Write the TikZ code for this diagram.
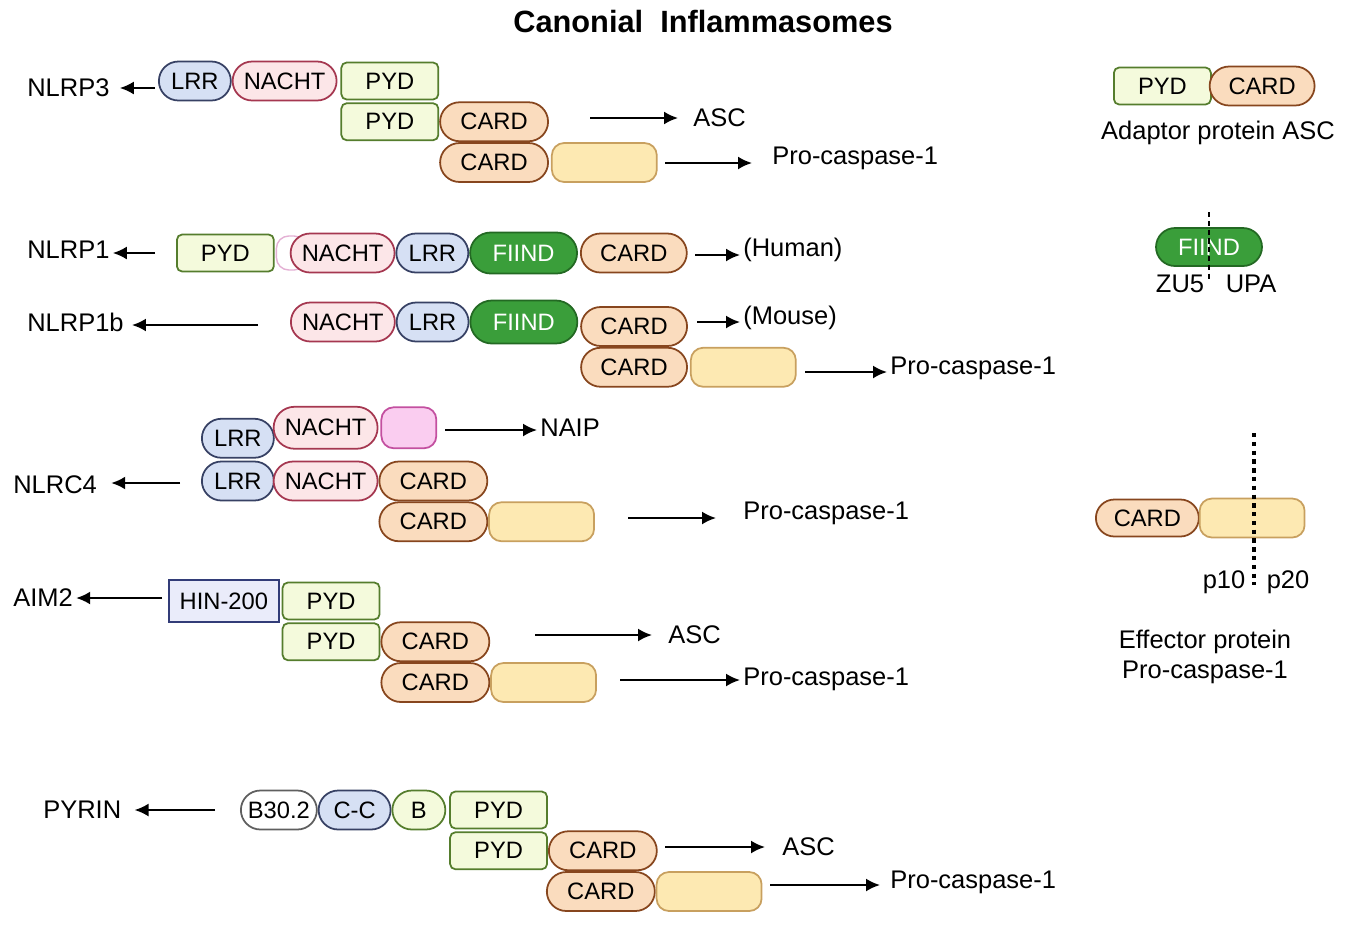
\documentclass[tikz,border=0pt]{standalone}
\usepackage{fontspec}
\setmainfont{Liberation Sans}
\usetikzlibrary{positioning,shapes.misc,arrows.meta}

\definecolor{cardfill}{RGB}{250,220,190}
\definecolor{cardline}{RGB}{135,70,30}
\definecolor{tailfill}{RGB}{253,233,178}
\definecolor{tailline}{RGB}{200,160,95}
\definecolor{pydfill}{RGB}{244,250,220}
\definecolor{pydline}{RGB}{85,125,45}
\definecolor{lrrfill}{RGB}{214,224,244}
\definecolor{lrrline}{RGB}{55,65,100}
\definecolor{nachtfill}{RGB}{252,230,232}
\definecolor{nachtline}{RGB}{165,55,80}
\definecolor{fiindfill}{RGB}{58,158,58}
\definecolor{fiindline}{RGB}{35,105,35}
\definecolor{naipfill}{RGB}{250,205,240}
\definecolor{naipline}{RGB}{195,80,160}
\definecolor{hinfill}{RGB}{234,236,250}
\definecolor{hinline}{RGB}{50,60,120}
\definecolor{bthreeline}{RGB}{95,95,95}

\newcommand{\domfont}{\fontsize{13.5}{15}\selectfont}
\newcommand{\lblfont}{\fontsize{14.5}{17}\selectfont}

\begin{document}
\begin{tikzpicture}[x=0.02cm, y=-0.02cm,
    dom/.style = {draw, line width=1pt, minimum height=0.78cm, inner sep=0pt, font=\domfont},
    pill/.style = {dom, rounded rectangle},
    box/.style = {dom, rectangle, rounded corners=3pt},
    card/.style = {pill, fill=cardfill, draw=cardline, minimum width=2.16cm},
    tail/.style = {box, rounded corners=7pt, fill=tailfill, draw=tailline, minimum width=2.1cm},
    pyd/.style = {box, fill=pydfill, draw=pydline, minimum width=1.94cm, minimum height=0.74cm},
    lrr/.style = {pill, fill=lrrfill, draw=lrrline, minimum width=1.44cm},
    nacht/.style = {pill, fill=nachtfill, draw=nachtline, minimum width=2.08cm},
    fiind/.style = {pill, fill=fiindfill, draw=fiindline, text=white, minimum width=2.14cm, minimum height=0.82cm},
    naip/.style = {box, rounded corners=7pt, fill=naipfill, draw=naipline, minimum width=1.1cm, minimum height=0.82cm},
    hin/.style = {dom, fill=hinfill, draw=hinline, minimum width=2.2cm, minimum height=0.84cm},
    bthree/.style = {pill, fill=white, draw=bthreeline, minimum width=1.52cm},
    bbox/.style = {pill, fill=pydfill, draw=pydline, minimum width=1.06cm},
    lbl/.style = {font=\lblfont, inner xsep=0.06cm, inner ysep=0.05cm},
    arr/.style = {-{Latex[length=0.28cm, width=0.26cm]}, line width=1.2pt},
    cutline/.style = {line width=1.2pt, dash pattern=on 3pt off 2pt}
]
\useasboundingbox (0,0) rectangle (1358,924);

\node[font=\fontsize{17.5}{20}\selectfont\bfseries] (title) at (703,22) {Canonial\ \ Inflammasomes};

% NLRP3
\node[lrr, anchor=west] (lrr3) at (158,81) {LRR};
\node[nacht] (nacht3) [right=0cm of lrr3] {NACHT};
\node[pyd] (pyd3) [right=0.06cm of nacht3] {PYD};
\node[pyd] (pyd3b) [below=0.04cm of pyd3] {PYD};
\node[card] (card3) [right=0cm of pyd3b] {CARD};
\node[card] (card3b) [below=0cm of card3] {CARD};
\node[tail] (tail3) [right=0.04cm of card3b] {};

\node[lbl, anchor=west] (nlrp3) at (24,88) {NLRP3};
\node[lbl, anchor=west] (asc3) at (690,118) {ASC};
\node[lbl, anchor=west] (proc3) at (769,158) {Pro-caspase-1};
\coordinate (s3) at (155,88);
\coordinate (a3) at (590,118);
\coordinate (p3) at (665,163);
\draw[arr, shorten >=0.14cm] (s3) -- (s3 -| nlrp3.east);
\draw[arr, shorten >=0.24cm] (a3) -- (a3 -| asc3.west);
\draw[arr, shorten >=0.34cm] (p3) -- (p3 -| proc3.west);

% NLRP1 (human)
\node[pyd, anchor=west] (pyd1) at (176,253) {PYD};
\node[naip, fill=white, draw=naipline!45, line width=0.8pt, minimum width=0.6cm, minimum height=0.68cm] (link1) [right=0.02cm of pyd1] {};
\node[nacht] (nacht1) [right=0.3cm of pyd1] {NACHT};
\node[lrr] (lrr1) [right=0cm of nacht1] {LRR};
\node[fiind] (fiind1) [right=0cm of lrr1] {FIIND};
\node[card, minimum width=2.12cm] (card1) [right=0.04cm of fiind1] {CARD};

\node[lbl, anchor=west] (nlrp1) at (24,250) {NLRP1};
\node[lbl, anchor=west] (human) at (740,250) {(Human)};
\coordinate (s1) at (155,253);
\coordinate (h1) at (695,255);
\draw[arr] (s1) -- (s1 -| nlrp1.east);
\draw[arr] (h1) -- (h1 -| human.west);

% NLRP1b (mouse)
\node[nacht, anchor=west] (nacht1b) at (290,322) {NACHT};
\node[lrr] (lrr1b) [right=0cm of nacht1b] {LRR};
\node[fiind, minimum height=0.86cm] (fiind1b) [right=0cm of lrr1b] {FIIND};
\node[card, minimum width=2.12cm] (card1b) [right=0.04cm of fiind1b, yshift=-0.09cm] {CARD};
\node[card, minimum width=2.12cm] (card1bb) [below=0cm of card1b] {CARD};
\node[tail] (tail1b) [right=0.04cm of card1bb] {};

\node[lbl, anchor=west] (nlrp1b) at (24,322) {NLRP1b};
\node[lbl, anchor=west] (mouse) at (740,318) {(Mouse)};
\node[lbl, anchor=west] (proc1b) at (887,368) {Pro-caspase-1};
\coordinate (s1b) at (258,325);
\coordinate (m1b) at (697,322);
\coordinate (p1b) at (805,372);
\draw[arr, shorten >=0.1cm] (s1b) -- (s1b -| nlrp1b.east);
\draw[arr] (m1b) -- (m1b -| mouse.west);
\draw[arr] (p1b) -- (p1b -| proc1b.west);

% NLRC4 / NAIP
\node[lrr, anchor=west] (lrr4) at (201,481) {LRR};
\node[nacht] (nacht4) [right=-0.04cm of lrr4] {NACHT};
\node[card] (card4) [right=0cm of nacht4] {CARD};
\node[card] (card4b) [below=0cm of card4] {CARD};
\node[tail] (tail4) [right=0cm of card4b] {};
\node[lrr] (lrr4u) [above=0.04cm of lrr4] {LRR};
\node[nacht, minimum height=0.84cm] (nacht4u) [above=0.22cm of nacht4] {NACHT};
\node[naip] (naip4) [right=0.04cm of nacht4u] {};

\node[lbl, anchor=west] (nlrc4) at (10,485) {NLRC4};
\node[lbl, anchor=west] (naip) at (537,428) {NAIP};
\node[lbl, anchor=west] (proc4) at (740,513) {Pro-caspase-1};
\coordinate (s4) at (180,483);
\coordinate (n4) at (445,430);
\coordinate (p4) at (628,518);
\draw[arr, shorten >=0.22cm] (s4) -- (s4 -| nlrc4.east);
\draw[arr] (n4) -- (n4 -| naip.west);
\draw[arr, shorten >=0.48cm] (p4) -- (p4 -| proc4.west);

% AIM2
\node[hin, anchor=west] (hin2) at (168,601) {HIN-200};
\node[pyd] (pyd2) [right=0.04cm of hin2] {PYD};
\node[pyd] (pyd2b) [below=0.04cm of pyd2] {PYD};
\node[card] (card2) [right=0cm of pyd2b] {CARD};
\node[card] (card2b) [below=0cm of card2] {CARD};
\node[tail] (tail2) [right=0cm of card2b] {};

\node[lbl, anchor=west] (aim2) at (10,598) {AIM2};
\node[lbl, anchor=west] (asc2) at (665,635) {ASC};
\node[lbl, anchor=west] (proc2) at (740,679) {Pro-caspase-1};
\coordinate (s2) at (162,598);
\coordinate (a2) at (535,635);
\coordinate (p2) at (620,680);
\draw[arr] (s2) -- (s2 -| aim2.east);
\draw[arr, shorten >=0.26cm] (a2) -- (a2 -| asc2.west);
\draw[arr] (p2) -- (p2 -| proc2.west);

% PYRIN
\node[bthree, anchor=west] (b305) at (240,810) {B30.2};
\node[lrr] (cc5) [right=0cm of b305] {C-C};
\node[bbox] (b5) [right=0cm of cc5] {B};
\node[pyd] (pyd5) [right=0.06cm of b5] {PYD};
\node[pyd] (pyd5b) [below=0.04cm of pyd5] {PYD};
\node[card] (card5) [right=0cm of pyd5b] {CARD};
\node[card] (card5b) [below=0cm of card5, xshift=-0.04cm] {CARD};
\node[tail] (tail5) [right=0cm of card5b] {};

\node[lbl, anchor=west] (pyrin) at (40,810) {PYRIN};
\node[lbl, anchor=west] (asc5) at (779,847) {ASC};
\node[lbl, anchor=west] (proc5) at (887,882) {Pro-caspase-1};
\coordinate (s5) at (215,810);
\coordinate (a5) at (665,847);
\coordinate (p5) at (770,885);
\draw[arr, shorten >=0.2cm] (s5) -- (s5 -| pyrin.east);
\draw[arr, shorten >=0.28cm] (a5) -- (a5 -| asc5.west);
\draw[arr, shorten >=0.14cm] (p5) -- (p5 -| proc5.west);

% adaptor ASC
\node[pyd, anchor=west] (pydr) at (1113,86) {PYD};
\node[card, minimum width=2.1cm] (cardr) [right=-0.06cm of pydr] {CARD};
\node[lbl] (ascr) at (1218,133) {Adaptor protein ASC};

% FIIND cleavage
\node[fiind, minimum width=2.12cm, minimum height=0.76cm] (fiindr) at (1209,247) {FIIND};
\coordinate (zt) at (1209,212);
\coordinate (zb) at (1209,282);
\draw[cutline] (zt) -- (zb);
\node[lbl] (zu5) at (1180,284) {ZU5};
\node[lbl] (upa) at (1251,284) {UPA};

% effector pro-caspase-1
\node[card, anchor=west, minimum width=2.06cm, minimum height=0.74cm] (cardp) at (1095,518) {CARD};
\node[tail] (tailp) [right=-0.02cm of cardp] {};
\coordinate (ct) at (1254,433);
\coordinate (cb) at (1254,585);
\draw[cutline, line width=1.8pt, dash pattern=on 2.5pt off 2.5pt] (ct) -- (cb);
\node[lbl] (p10) at (1224,582) {p10};
\node[lbl] (p20) at (1288,582) {p20};
\node[lbl, align=center] (effector) at (1205,657) {Effector protein\\Pro-caspase-1};
\end{tikzpicture}
\end{document}
